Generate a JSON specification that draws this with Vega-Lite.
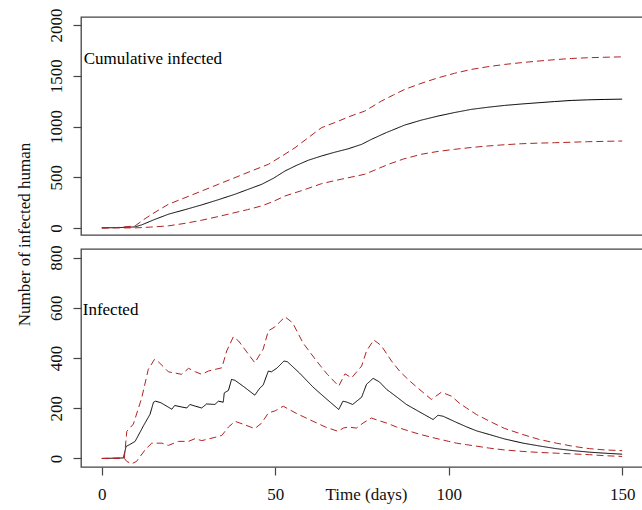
{
  "$schema": "https://vega.github.io/schema/vega-lite/v6.json",
  "background": "white",
  "padding": {"left": 14, "top": 7, "right": 0, "bottom": 5},
  "spacing": 14,
  "bounds": "flush",
  "config": {
    "font": "Liberation Serif",
    "view": {"stroke": "#444", "strokeWidth": 1.3},
    "axis": {
      "labelFont": "Liberation Serif",
      "labelFontSize": 17,
      "labelColor": "#111",
      "titleFont": "Liberation Serif",
      "titleFontSize": 17,
      "titleFontWeight": "normal",
      "titleColor": "#111",
      "tickColor": "#444",
      "tickWidth": 1.2,
      "tickSize": 8,
      "grid": false,
      "domain": false,
      "format": "d"
    }
  },
  "datasets": {
    "cumulative": [
      {"day": 0, "value": 0, "series": "mean"}, {"day": 5, "value": 3, "series": "mean"}, {"day": 9.6, "value": 10, "series": "mean"}, {"day": 11.5, "value": 30, "series": "mean"}, {"day": 15, "value": 80, "series": "mean"}, {"day": 19.2, "value": 135, "series": "mean"}, {"day": 24, "value": 180, "series": "mean"}, {"day": 28.8, "value": 227, "series": "mean"}, {"day": 33.6, "value": 278, "series": "mean"}, {"day": 38.4, "value": 332, "series": "mean"}, {"day": 42, "value": 378, "series": "mean"}, {"day": 46.1, "value": 430, "series": "mean"}, {"day": 49.5, "value": 490, "series": "mean"}, {"day": 52.8, "value": 561, "series": "mean"}, {"day": 56, "value": 615, "series": "mean"}, {"day": 59.5, "value": 667, "series": "mean"}, {"day": 63.3, "value": 709, "series": "mean"}, {"day": 67, "value": 745, "series": "mean"}, {"day": 71, "value": 780, "series": "mean"}, {"day": 74.9, "value": 824, "series": "mean"}, {"day": 77.7, "value": 873, "series": "mean"}, {"day": 82, "value": 940, "series": "mean"}, {"day": 87.3, "value": 1014, "series": "mean"}, {"day": 92, "value": 1062, "series": "mean"}, {"day": 96.9, "value": 1103, "series": "mean"}, {"day": 101.7, "value": 1138, "series": "mean"}, {"day": 106.5, "value": 1169, "series": "mean"}, {"day": 111.3, "value": 1190, "series": "mean"}, {"day": 116.1, "value": 1208, "series": "mean"}, {"day": 121, "value": 1222, "series": "mean"}, {"day": 125.7, "value": 1234, "series": "mean"}, {"day": 130.5, "value": 1246, "series": "mean"}, {"day": 135.3, "value": 1257, "series": "mean"}, {"day": 140, "value": 1263, "series": "mean"}, {"day": 145, "value": 1267, "series": "mean"}, {"day": 150, "value": 1270, "series": "mean"},
      {"day": 0, "value": 0, "series": "upper"}, {"day": 5, "value": 5, "series": "upper"}, {"day": 9.6, "value": 20, "series": "upper"}, {"day": 12, "value": 80, "series": "upper"}, {"day": 14.4, "value": 135, "series": "upper"}, {"day": 19.2, "value": 233, "series": "upper"}, {"day": 24, "value": 298, "series": "upper"}, {"day": 28.8, "value": 364, "series": "upper"}, {"day": 33.6, "value": 430, "series": "upper"}, {"day": 38.4, "value": 496, "series": "upper"}, {"day": 43, "value": 560, "series": "upper"}, {"day": 48, "value": 627, "series": "upper"}, {"day": 52, "value": 710, "series": "upper"}, {"day": 55.7, "value": 791, "series": "upper"}, {"day": 59.5, "value": 890, "series": "upper"}, {"day": 63.3, "value": 988, "series": "upper"}, {"day": 68, "value": 1050, "series": "upper"}, {"day": 71.5, "value": 1100, "series": "upper"}, {"day": 75.8, "value": 1152, "series": "upper"}, {"day": 80.6, "value": 1251, "series": "upper"}, {"day": 84, "value": 1310, "series": "upper"}, {"day": 87.3, "value": 1366, "series": "upper"}, {"day": 92, "value": 1425, "series": "upper"}, {"day": 96.9, "value": 1480, "series": "upper"}, {"day": 101.7, "value": 1525, "series": "upper"}, {"day": 106.5, "value": 1563, "series": "upper"}, {"day": 111.3, "value": 1590, "series": "upper"}, {"day": 116.1, "value": 1612, "series": "upper"}, {"day": 121, "value": 1630, "series": "upper"}, {"day": 125.7, "value": 1645, "series": "upper"}, {"day": 130.5, "value": 1659, "series": "upper"}, {"day": 135.3, "value": 1671, "series": "upper"}, {"day": 140, "value": 1678, "series": "upper"}, {"day": 145, "value": 1683, "series": "upper"}, {"day": 150, "value": 1687, "series": "upper"},
      {"day": 0, "value": 0, "series": "lower"}, {"day": 9.6, "value": 0, "series": "lower"}, {"day": 14, "value": 8, "series": "lower"}, {"day": 19.2, "value": 20, "series": "lower"}, {"day": 24, "value": 45, "series": "lower"}, {"day": 28.8, "value": 76, "series": "lower"}, {"day": 33.6, "value": 112, "series": "lower"}, {"day": 38.4, "value": 151, "series": "lower"}, {"day": 42, "value": 180, "series": "lower"}, {"day": 46.1, "value": 217, "series": "lower"}, {"day": 49.5, "value": 262, "series": "lower"}, {"day": 52.8, "value": 315, "series": "lower"}, {"day": 58, "value": 372, "series": "lower"}, {"day": 63.3, "value": 436, "series": "lower"}, {"day": 69, "value": 480, "series": "lower"}, {"day": 75.8, "value": 529, "series": "lower"}, {"day": 79, "value": 575, "series": "lower"}, {"day": 82.6, "value": 627, "series": "lower"}, {"day": 87, "value": 680, "series": "lower"}, {"day": 92.1, "value": 726, "series": "lower"}, {"day": 97, "value": 755, "series": "lower"}, {"day": 101.7, "value": 775, "series": "lower"}, {"day": 106.5, "value": 793, "series": "lower"}, {"day": 111.3, "value": 808, "series": "lower"}, {"day": 116, "value": 820, "series": "lower"}, {"day": 120.9, "value": 830, "series": "lower"}, {"day": 125.7, "value": 836, "series": "lower"}, {"day": 130.5, "value": 840, "series": "lower"}, {"day": 140, "value": 850, "series": "lower"}, {"day": 150, "value": 857, "series": "lower"}
    ],
    "infected": [
      {"day": 0, "value": 0, "series": "mean"}, {"day": 6.2, "value": 2, "series": "mean"}, {"day": 7, "value": 48, "series": "mean"}, {"day": 8, "value": 55, "series": "mean"}, {"day": 9.6, "value": 68, "series": "mean"}, {"day": 12, "value": 130, "series": "mean"}, {"day": 13.9, "value": 176, "series": "mean"}, {"day": 14.9, "value": 224, "series": "mean"}, {"day": 15.5, "value": 228, "series": "mean"}, {"day": 17, "value": 222, "series": "mean"}, {"day": 20.2, "value": 196, "series": "mean"}, {"day": 21, "value": 211, "series": "mean"}, {"day": 23, "value": 205, "series": "mean"}, {"day": 24.5, "value": 201, "series": "mean"}, {"day": 25.4, "value": 215, "series": "mean"}, {"day": 27, "value": 208, "series": "mean"}, {"day": 28.8, "value": 201, "series": "mean"}, {"day": 30.2, "value": 217, "series": "mean"}, {"day": 32.6, "value": 215, "series": "mean"}, {"day": 33.6, "value": 228, "series": "mean"}, {"day": 35, "value": 224, "series": "mean"}, {"day": 35.3, "value": 261, "series": "mean"}, {"day": 36.5, "value": 271, "series": "mean"}, {"day": 37.4, "value": 315, "series": "mean"}, {"day": 38.4, "value": 311, "series": "mean"}, {"day": 41, "value": 285, "series": "mean"}, {"day": 44.1, "value": 252, "series": "mean"}, {"day": 45.6, "value": 281, "series": "mean"}, {"day": 46.5, "value": 292, "series": "mean"}, {"day": 48, "value": 348, "series": "mean"}, {"day": 48.9, "value": 345, "series": "mean"}, {"day": 50.5, "value": 360, "series": "mean"}, {"day": 52.5, "value": 388, "series": "mean"}, {"day": 53.5, "value": 385, "series": "mean"}, {"day": 57, "value": 340, "series": "mean"}, {"day": 60.9, "value": 284, "series": "mean"}, {"day": 64.5, "value": 240, "series": "mean"}, {"day": 68.3, "value": 195, "series": "mean"}, {"day": 69.5, "value": 228, "series": "mean"}, {"day": 70.5, "value": 225, "series": "mean"}, {"day": 72.3, "value": 215, "series": "mean"}, {"day": 74.9, "value": 244, "series": "mean"}, {"day": 76.3, "value": 295, "series": "mean"}, {"day": 78.2, "value": 319, "series": "mean"}, {"day": 80, "value": 305, "series": "mean"}, {"day": 82.1, "value": 275, "series": "mean"}, {"day": 85, "value": 245, "series": "mean"}, {"day": 87.8, "value": 215, "series": "mean"}, {"day": 91, "value": 190, "series": "mean"}, {"day": 95.5, "value": 155, "series": "mean"}, {"day": 96.9, "value": 172, "series": "mean"}, {"day": 98.4, "value": 168, "series": "mean"}, {"day": 102, "value": 145, "series": "mean"}, {"day": 105.1, "value": 126, "series": "mean"}, {"day": 108, "value": 110, "series": "mean"}, {"day": 111.8, "value": 95, "series": "mean"}, {"day": 116, "value": 78, "series": "mean"}, {"day": 121.4, "value": 61, "series": "mean"}, {"day": 126, "value": 50, "series": "mean"}, {"day": 131, "value": 39, "series": "mean"}, {"day": 136, "value": 31, "series": "mean"}, {"day": 140.6, "value": 25, "series": "mean"}, {"day": 145, "value": 21, "series": "mean"}, {"day": 150, "value": 17, "series": "mean"},
      {"day": 0, "value": 0, "series": "upper"}, {"day": 6.5, "value": 2, "series": "upper"}, {"day": 7.2, "value": 108, "series": "upper"}, {"day": 9.1, "value": 137, "series": "upper"}, {"day": 11.5, "value": 241, "series": "upper"}, {"day": 13.4, "value": 355, "series": "upper"}, {"day": 15.2, "value": 395, "series": "upper"}, {"day": 16.3, "value": 385, "series": "upper"}, {"day": 19.2, "value": 345, "series": "upper"}, {"day": 23, "value": 335, "series": "upper"}, {"day": 25, "value": 359, "series": "upper"}, {"day": 27, "value": 345, "series": "upper"}, {"day": 28.8, "value": 335, "series": "upper"}, {"day": 30.7, "value": 348, "series": "upper"}, {"day": 34.6, "value": 361, "series": "upper"}, {"day": 36, "value": 428, "series": "upper"}, {"day": 37.9, "value": 484, "series": "upper"}, {"day": 39.4, "value": 468, "series": "upper"}, {"day": 42, "value": 420, "series": "upper"}, {"day": 44.1, "value": 381, "series": "upper"}, {"day": 46.5, "value": 435, "series": "upper"}, {"day": 48, "value": 508, "series": "upper"}, {"day": 49.9, "value": 524, "series": "upper"}, {"day": 52.8, "value": 564, "series": "upper"}, {"day": 55, "value": 540, "series": "upper"}, {"day": 58, "value": 460, "series": "upper"}, {"day": 61.9, "value": 388, "series": "upper"}, {"day": 65, "value": 335, "series": "upper"}, {"day": 68.3, "value": 288, "series": "upper"}, {"day": 70.1, "value": 337, "series": "upper"}, {"day": 72, "value": 321, "series": "upper"}, {"day": 74.9, "value": 368, "series": "upper"}, {"day": 76.3, "value": 428, "series": "upper"}, {"day": 78.4, "value": 472, "series": "upper"}, {"day": 80.5, "value": 450, "series": "upper"}, {"day": 83.5, "value": 388, "series": "upper"}, {"day": 86, "value": 345, "series": "upper"}, {"day": 88.8, "value": 308, "series": "upper"}, {"day": 92, "value": 270, "series": "upper"}, {"day": 95, "value": 235, "series": "upper"}, {"day": 97.9, "value": 264, "series": "upper"}, {"day": 100.8, "value": 248, "series": "upper"}, {"day": 103, "value": 221, "series": "upper"}, {"day": 105.1, "value": 201, "series": "upper"}, {"day": 108, "value": 175, "series": "upper"}, {"day": 111.8, "value": 148, "series": "upper"}, {"day": 116, "value": 120, "series": "upper"}, {"day": 121.4, "value": 95, "series": "upper"}, {"day": 126, "value": 76, "series": "upper"}, {"day": 131, "value": 61, "series": "upper"}, {"day": 136, "value": 48, "series": "upper"}, {"day": 140.6, "value": 39, "series": "upper"}, {"day": 145, "value": 34, "series": "upper"}, {"day": 150, "value": 31, "series": "upper"},
      {"day": 0, "value": 0, "series": "lower"}, {"day": 6.5, "value": 0, "series": "lower"}, {"day": 7.2, "value": -12, "series": "lower"}, {"day": 8.6, "value": -21, "series": "lower"}, {"day": 10, "value": -12, "series": "lower"}, {"day": 12.5, "value": 35, "series": "lower"}, {"day": 14.4, "value": 61, "series": "lower"}, {"day": 17.3, "value": 61, "series": "lower"}, {"day": 19.2, "value": 52, "series": "lower"}, {"day": 22.1, "value": 68, "series": "lower"}, {"day": 25, "value": 68, "series": "lower"}, {"day": 26.9, "value": 79, "series": "lower"}, {"day": 28.8, "value": 71, "series": "lower"}, {"day": 32.6, "value": 84, "series": "lower"}, {"day": 34.6, "value": 92, "series": "lower"}, {"day": 36.5, "value": 125, "series": "lower"}, {"day": 38.4, "value": 148, "series": "lower"}, {"day": 41, "value": 135, "series": "lower"}, {"day": 44.1, "value": 119, "series": "lower"}, {"day": 46, "value": 140, "series": "lower"}, {"day": 48, "value": 181, "series": "lower"}, {"day": 50, "value": 190, "series": "lower"}, {"day": 52.3, "value": 208, "series": "lower"}, {"day": 56, "value": 180, "series": "lower"}, {"day": 60.9, "value": 148, "series": "lower"}, {"day": 64.5, "value": 125, "series": "lower"}, {"day": 68.1, "value": 108, "series": "lower"}, {"day": 69.6, "value": 121, "series": "lower"}, {"day": 71, "value": 125, "series": "lower"}, {"day": 73.4, "value": 121, "series": "lower"}, {"day": 75.3, "value": 141, "series": "lower"}, {"day": 77.7, "value": 161, "series": "lower"}, {"day": 80, "value": 150, "series": "lower"}, {"day": 82.1, "value": 141, "series": "lower"}, {"day": 85, "value": 125, "series": "lower"}, {"day": 88.8, "value": 108, "series": "lower"}, {"day": 92, "value": 95, "series": "lower"}, {"day": 96, "value": 81, "series": "lower"}, {"day": 100, "value": 68, "series": "lower"}, {"day": 102.2, "value": 61, "series": "lower"}, {"day": 105.1, "value": 55, "series": "lower"}, {"day": 111.8, "value": 41, "series": "lower"}, {"day": 116, "value": 34, "series": "lower"}, {"day": 121.4, "value": 28, "series": "lower"}, {"day": 126, "value": 24, "series": "lower"}, {"day": 131, "value": 21, "series": "lower"}, {"day": 136, "value": 18, "series": "lower"}, {"day": 140.6, "value": 15, "series": "lower"}, {"day": 145, "value": 11, "series": "lower"}, {"day": 150, "value": 8, "series": "lower"}
    ]
  },
  "vconcat": [
    {
      "width": 562,
      "height": 218,
      "layer": [
        {
          "data": {"name": "cumulative"},
          "mark": {"type": "line", "strokeWidth": 1},
          "encoding": {
            "x": {"field": "day", "type": "quantitative", "scale": {"domain": [-6, 156], "nice": false, "zero": false}, "axis": null},
            "y": {"field": "value", "type": "quantitative", "scale": {"domain": [-70, 2080], "nice": false, "zero": false},
              "axis": {"values": [0, 500, 1000, 1500, 2000], "labelAngle": -90, "labelAlign": "center", "labelBaseline": "alphabetic", "labelPadding": 12,
                "title": "Number of infected human", "titleAngle": -90, "titleX": -52, "titleY": 217, "titleAlign": "center", "titleBaseline": "alphabetic"}},
            "color": {"field": "series", "type": "nominal", "scale": {"domain": ["mean", "upper", "lower"], "range": ["#000000", "#B22222", "#B22222"]}, "legend": null},
            "strokeDash": {"field": "series", "type": "nominal", "scale": {"domain": ["mean", "upper", "lower"], "range": [[1, 0], [7, 4], [7, 4]]}, "legend": null}
          }
        },
        {
          "data": {"values": [{"day": -5.2, "value": 1620, "label": "Cumulative infected"}]},
          "mark": {"type": "text", "align": "left", "baseline": "alphabetic", "fontSize": 17, "font": "Liberation Serif", "color": "#000"},
          "encoding": {
            "x": {"field": "day", "type": "quantitative"},
            "y": {"field": "value", "type": "quantitative"},
            "text": {"field": "label"}
          }
        }
      ]
    },
    {
      "width": 562,
      "height": 218,
      "layer": [
        {
          "data": {"name": "infected"},
          "mark": {"type": "line", "strokeWidth": 1},
          "encoding": {
            "x": {"field": "day", "type": "quantitative", "scale": {"domain": [-6, 156], "nice": false, "zero": false},
              "axis": {"values": [0, 50, 100, 150], "labelBaseline": "alphabetic", "labelPadding": 24, "title": "Time (days)", "titleX": 285, "titleY": 32, "titleBaseline": "alphabetic"}},
            "y": {"field": "value", "type": "quantitative", "scale": {"domain": [-34, 834], "nice": false, "zero": false},
              "axis": {"values": [0, 200, 400, 600, 800], "labelAngle": -90, "labelAlign": "center", "labelBaseline": "alphabetic", "labelPadding": 12, "title": null}},
            "color": {"field": "series", "type": "nominal", "scale": {"domain": ["mean", "upper", "lower"], "range": ["#000000", "#B22222", "#B22222"]}, "legend": null},
            "strokeDash": {"field": "series", "type": "nominal", "scale": {"domain": ["mean", "upper", "lower"], "range": [[1, 0], [7, 4], [7, 4]]}, "legend": null}
          }
        },
        {
          "data": {"values": [{"day": -5.5, "value": 572, "label": "Infected"}]},
          "mark": {"type": "text", "align": "left", "baseline": "alphabetic", "fontSize": 17, "font": "Liberation Serif", "color": "#000"},
          "encoding": {
            "x": {"field": "day", "type": "quantitative"},
            "y": {"field": "value", "type": "quantitative"},
            "text": {"field": "label"}
          }
        }
      ]
    }
  ]
}
